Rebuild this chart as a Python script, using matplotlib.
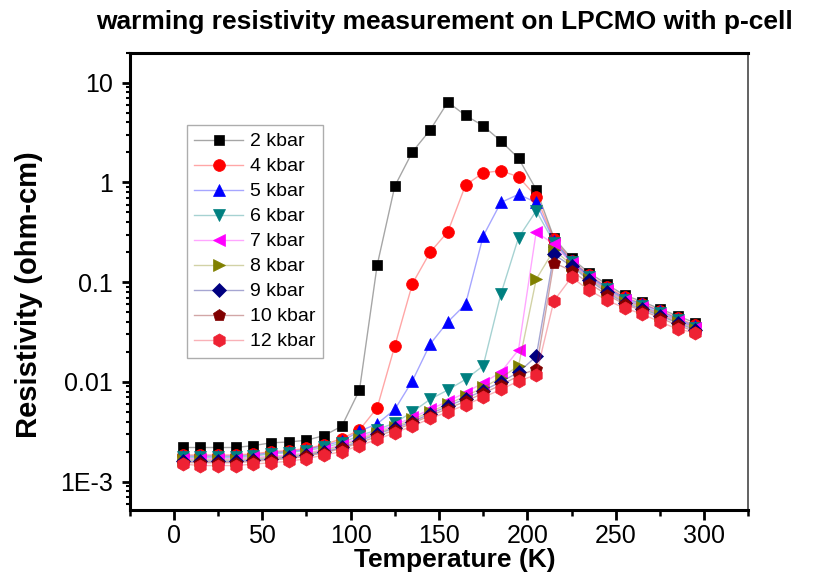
import numpy as np
import matplotlib
matplotlib.use("Agg")
import matplotlib.pyplot as plt
from matplotlib.ticker import MultipleLocator, FixedLocator, LogLocator, FixedFormatter, NullFormatter
from matplotlib.colors import to_rgba

plt.rcParams["font.family"] = ["Liberation Sans", "DejaVu Sans"]

# temperature points (K)
temperature = np.arange(5, 300, 10)

# resistivity (ohm-cm)
rho_2kbar = [2.2e-3, 2.2e-3, 2.2e-3, 2.2e-3, 2.3e-3, 2.45e-3, 2.5e-3, 2.6e-3, 2.9e-3, 3.6e-3,
             8.3e-3, 0.148, 0.92, 2.03, 3.36, 6.4, 4.7, 3.7, 2.6, 1.75,
             0.85, 0.28, 0.173, 0.124, 0.095, 0.074, 0.064, 0.054, 0.046, 0.039]
rho_4kbar = [1.85e-3, 1.85e-3, 1.85e-3, 1.85e-3, 1.9e-3, 2.0e-3, 2.05e-3, 2.15e-3, 2.35e-3, 2.7e-3,
             3.3e-3, 5.5e-3, 0.023, 0.097, 0.2, 0.32, 0.94, 1.25, 1.31, 1.14,
             0.72, 0.27, 0.165, 0.118, 0.09, 0.071, 0.061, 0.052, 0.044, 0.037]
rho_5kbar = [1.8e-3, 1.8e-3, 1.8e-3, 1.8e-3, 1.85e-3, 1.95e-3, 2.0e-3, 2.1e-3, 2.3e-3, 2.55e-3,
             3.2e-3, 3.8e-3, 5.3e-3, 0.0103, 0.024, 0.040, 0.060, 0.29, 0.63, 0.76,
             0.63, 0.26, 0.162, 0.116, 0.088, 0.069, 0.060, 0.051, 0.043, 0.036]
rho_6kbar = [1.75e-3, 1.75e-3, 1.75e-3, 1.75e-3, 1.8e-3, 1.9e-3, 1.95e-3, 2.05e-3, 2.2e-3, 2.45e-3,
             2.9e-3, 3.3e-3, 3.9e-3, 5.0e-3, 6.7e-3, 8.3e-3, 0.0106, 0.0145, 0.076, 0.28,
             0.52, 0.25, 0.158, 0.113, 0.086, 0.067, 0.058, 0.049, 0.042, 0.035]
rho_7kbar = [1.7e-3, 1.7e-3, 1.7e-3, 1.7e-3, 1.75e-3, 1.8e-3, 1.85e-3, 1.95e-3, 2.1e-3, 2.35e-3,
             2.75e-3, 3.2e-3, 3.7e-3, 4.4e-3, 5.3e-3, 6.4e-3, 7.8e-3, 9.8e-3, 0.0125, 0.021,
             0.32, 0.24, 0.155, 0.111, 0.084, 0.066, 0.057, 0.048, 0.041, 0.035]
rho_8kbar = [1.65e-3, 1.65e-3, 1.65e-3, 1.65e-3, 1.7e-3, 1.75e-3, 1.8e-3, 1.9e-3, 2.05e-3, 2.3e-3,
             2.65e-3, 3.1e-3, 3.55e-3, 4.2e-3, 5.0e-3, 6.0e-3, 7.2e-3, 8.8e-3, 0.011, 0.0145,
             0.107, 0.21, 0.15, 0.108, 0.082, 0.064, 0.056, 0.047, 0.040, 0.034]
rho_9kbar = [1.6e-3, 1.6e-3, 1.6e-3, 1.6e-3, 1.65e-3, 1.7e-3, 1.75e-3, 1.85e-3, 2.0e-3, 2.2e-3,
             2.55e-3, 3.0e-3, 3.45e-3, 4.0e-3, 4.8e-3, 5.7e-3, 6.8e-3, 8.2e-3, 0.010, 0.0125,
             0.018, 0.19, 0.145, 0.104, 0.079, 0.062, 0.054, 0.046, 0.039, 0.033]
rho_10kbar = [1.55e-3, 1.55e-3, 1.55e-3, 1.55e-3, 1.6e-3, 1.65e-3, 1.7e-3, 1.8e-3, 1.95e-3, 2.15e-3,
              2.45e-3, 2.85e-3, 3.3e-3, 3.85e-3, 4.6e-3, 5.4e-3, 6.4e-3, 7.7e-3, 9.3e-3, 0.0115,
              0.0135, 0.157, 0.13, 0.097, 0.075, 0.060, 0.052, 0.044, 0.037, 0.032]
rho_12kbar = [1.5e-3, 1.45e-3, 1.45e-3, 1.45e-3, 1.5e-3, 1.55e-3, 1.6e-3, 1.7e-3, 1.85e-3, 2.0e-3,
              2.3e-3, 2.65e-3, 3.1e-3, 3.6e-3, 4.3e-3, 5.0e-3, 5.9e-3, 7.0e-3, 8.4e-3, 0.0102,
              0.0118, 0.065, 0.112, 0.083, 0.066, 0.055, 0.048, 0.040, 0.034, 0.031]

labels = ["2 kbar", "4 kbar", "5 kbar", "6 kbar", "7 kbar", "8 kbar", "9 kbar", "10 kbar", "12 kbar"]
series = [rho_2kbar, rho_4kbar, rho_5kbar, rho_6kbar, rho_7kbar, rho_8kbar, rho_9kbar, rho_10kbar, rho_12kbar]
colors = ["#000000", "#FF0000", "#0000FF", "#008080", "#FF00FF", "#808000", "#000080", "#800000", "#EE2233"]
markers = ["s", "o", "^", "v", "<", ">", "D", "p", "h"]
msizes = [7.5, 8.5, 9, 9, 9, 9, 7.5, 9, 9.5]

fig = plt.figure(figsize=(8.16, 5.73), dpi=100)
ax = fig.add_axes([0.159, 0.110, 0.758, 0.798])

for rho, lab, c, m, ms in zip(series, labels, colors, markers, msizes):
    ax.plot(temperature, rho, color=to_rgba(c, 0.35), linewidth=1.0,
            marker=m, markersize=ms, markerfacecolor=c, markeredgecolor=c,
            markeredgewidth=0.5, label=lab)

ax.set_yscale("log")
ax.set_xlim(-25, 325)
ax.set_ylim(5.2e-4, 20)

ax.xaxis.set_major_locator(MultipleLocator(50))
ax.xaxis.set_minor_locator(MultipleLocator(25))
ax.yaxis.set_major_locator(FixedLocator([1e-3, 1e-2, 1e-1, 1, 10]))
ax.yaxis.set_major_formatter(FixedFormatter(["1E-3", "0.01", "0.1", "1", "10"]))
ax.yaxis.set_minor_locator(LogLocator(base=10, subs=np.arange(2, 10), numticks=20))
ax.yaxis.set_minor_formatter(NullFormatter())

ax.tick_params(which="major", direction="out", width=2, labelsize=18)
ax.tick_params(axis="x", which="major", length=7, pad=3)
ax.tick_params(axis="x", which="minor", direction="out", length=4.5, width=1.8)
ax.tick_params(axis="y", which="major", length=6, pad=6)
ax.tick_params(axis="y", which="minor", direction="out", length=3, width=1.5)

for side in ["left", "bottom", "top"]:
    ax.spines[side].set_linewidth(2.2)
ax.spines["right"].set_linewidth(1.3)
ax.spines["right"].set_color("#555555")

ax.set_xlabel("Temperature (K)", fontsize=19, fontweight="bold")
ax.xaxis.set_label_coords(0.525, -0.083)
ax.set_ylabel("Resistivity (ohm-cm)", fontsize=21, fontweight="bold")
ax.yaxis.set_label_coords(-0.14, 0.47)
fig.text(0.545, 0.962, "warming resistivity measurement on LPCMO with p-cell",
         fontsize=19, fontweight="bold", ha="center", va="center")

leg = ax.legend(loc="upper left", bbox_to_anchor=(0.092, 0.842), fontsize=14,
                frameon=True, fancybox=False, edgecolor="#999999",
                handlelength=2.5, labelspacing=0.38, borderpad=0.4,
                handletextpad=0.35, borderaxespad=0)
leg.get_frame().set_linewidth(1.0)

fig.savefig("out.png", dpi=100)
